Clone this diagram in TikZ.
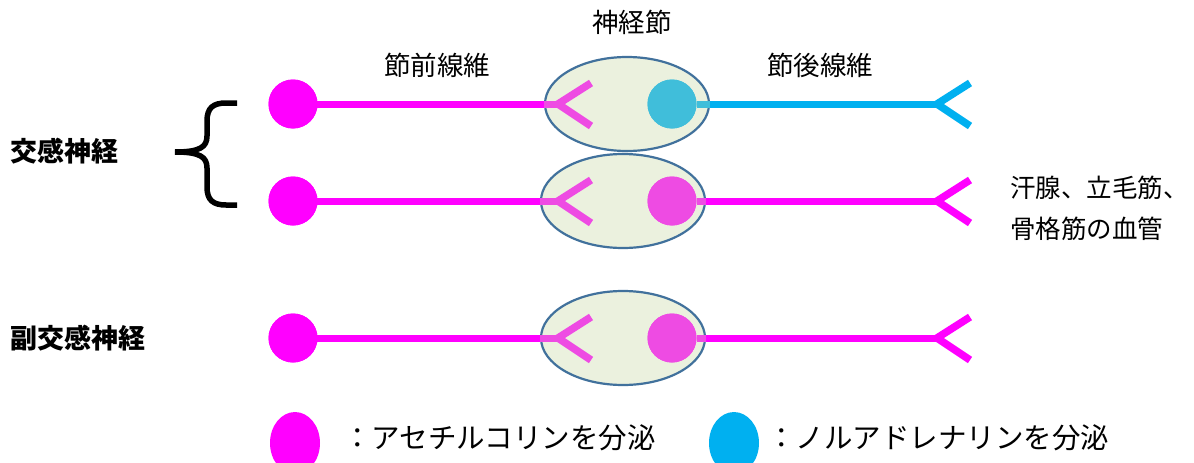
\documentclass[tikz,border=0pt]{standalone}
\usepackage{fontspec}
\setmainfont{Noto Sans CJK JP}
\usetikzlibrary{shapes.geometric}
\definecolor{mag}{HTML}{FF00FF}
\definecolor{cya}{HTML}{00B0F0}
\definecolor{lmag}{HTML}{EE4BE3}
\definecolor{lcya}{HTML}{40BEDA}
\definecolor{gfill}{HTML}{EBF1DE}
\definecolor{gedge}{HTML}{41719C}
\tikzset{
  soma/.style={circle, minimum size=49pt, inner sep=0pt, fill=#1},
  ganglion/.style={ellipse, minimum width=164pt, minimum height=94pt, inner sep=0pt, fill=gfill, draw=gedge, line width=2.2pt},
  fiber/.style={line width=7pt, draw=#1},
  fork/.style={line width=7.5pt, draw=#1},
  lbl/.style={font=\fontsize{26.5}{30}\selectfont, inner sep=0pt, text=black},
  side/.style={font=\fontsize{27}{30}\selectfont\bfseries, inner sep=0pt, text=black, anchor=west},
  legtext/.style={font=\fontsize{28.5}{30}\selectfont, inner sep=0pt, text=black, anchor=west},
}
\begin{document}
\begin{tikzpicture}[x=1pt,y=-1pt]
\useasboundingbox (0,0) rectangle (1194,463);
% row coordinates
\foreach \r/\y/\ex in {1/104/627, 2/201/623, 3/338/623}{
  \node[soma=mag] (pre\r) at (293,\y) {};
  \node[ganglion] (gang\r) at (\ex,\y) {};
  \coordinate (v\r) at (558,\y);
  \coordinate (a\r) at (591,\y-21);
  \coordinate (b\r) at (591,\y+22);
  \coordinate (w\r) at (937,\y);
  \coordinate (c\r) at (970,\y-21);
  \coordinate (d\r) at (970,\y+22);
}
\node[soma=lcya] (post1) at (672,104) {};
\node[soma=lmag] (post2) at (672,201) {};
\node[soma=lmag] (post3) at (672,338) {};
% preganglionic fibers
\foreach \r in {1,2,3}{
  \draw[fiber=mag] (pre\r.center) -- (gang\r.west);
  \draw[fiber=lmag] (gang\r.west) -- (v\r);
  \draw[fork=lmag, line join=miter] (a\r) -- (v\r) -- (b\r);
}
% postganglionic fibers
\draw[fiber=lcya] (post1.east) -- (gang1.east);
\draw[fiber=cya] (gang1.east) -- (w1);
\draw[fork=cya, line join=miter] (c1) -- (w1) -- (d1);
\foreach \r in {2,3}{
  \draw[fiber=lmag] (post\r.east) -- (gang\r.east);
  \draw[fiber=mag] (gang\r.east) -- (w\r);
  \draw[fork=mag, line join=miter] (c\r) -- (w\r) -- (d\r);
}
% redraw somata on top
\node[soma=mag] at (pre1) {};
\node[soma=mag] at (pre2) {};
\node[soma=mag] at (pre3) {};
\node[soma=lcya] at (post1) {};
\node[soma=lmag] at (post2) {};
\node[soma=lmag] at (post3) {};
% labels
\node[lbl] (tg) at (632,22) {神経節};
\node[lbl] (tpre) at (437,65) {節前線維};
\node[lbl] (tpost) at (820,65) {節後線維};
\node[side] (tsym) at (10,151) {交感神経};
\node[side] (tpara) at (10,338) {副交感神経};
\node[lbl, font=\fontsize{25.5}{30}\selectfont, anchor=west, align=left] (ttarget) at (1010,208) {汗腺、立毛筋、\\[11pt]骨格筋の血管};
% brace
\coordinate (bt) at (237,103);
\coordinate (bb) at (237,205);
\coordinate (btip) at (175,152);
\draw[line width=5.5pt, line cap=butt] (bt) -- (226,103) .. controls (213,103) and (207,108) .. (207,121) -- (207,136) .. controls (207,147) and (200,152) .. (btip) .. controls (200,152) and (207,157) .. (207,168) -- (207,187) .. controls (207,200) and (213,205) .. (226,205) -- (bb);
% legend
\node[ellipse, minimum width=50pt, minimum height=62pt, inner sep=0pt, fill=mag] (lm) at (295,443) {};
\node[ellipse, minimum width=50pt, minimum height=62pt, inner sep=0pt, fill=cya] (lc) at (734,443) {};
\node[legtext] (lmt) at (343,438) {：アセチルコリンを分泌};
\node[legtext] (lct) at (767,438) {：ノルアドレナリンを分泌};
\end{tikzpicture}
\end{document}
